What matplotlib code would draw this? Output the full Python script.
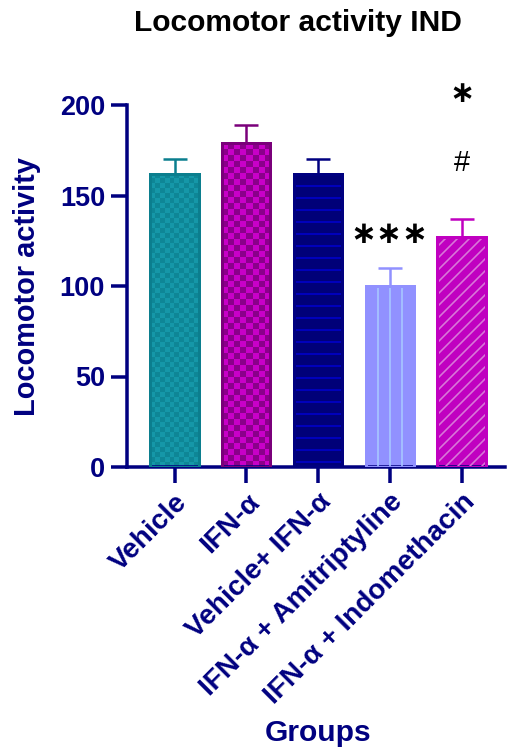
import numpy as np
import matplotlib.pyplot as plt
from matplotlib.colors import ListedColormap

# data
groups = ['Vehicle', 'IFN-α', 'Vehicle+ IFN-α', 'IFN-α + Amitriptyline', 'IFN-α + Indomethacin']
means = [162, 179, 162, 100, 127]
sem = [8, 10, 8, 10, 10]
marks = ['', '', '', '***', '*\n\n#']

face = ['#1597A8', '#8A008A', '#000078', '#9191FF', '#C000C0']
edge = ['#0B7E8E', '#7A007A', '#000080', '#9191FF', '#C000C0']
checker2 = ['#0E8696', '#C800C8', None, None, None]
hatches = [None, None, '-', '|', '//']
hatch_col = [None, None, '#0000CC', '#A8C8FF', '#D878D8']

navy = '#000080'
plt.rcParams['font.family'] = ['Liberation Sans', 'DejaVu Sans']
plt.rcParams['font.weight'] = 'bold'
plt.rcParams['hatch.linewidth'] = 1.6

fig = plt.figure(figsize=(507 / 72, 748 / 72), dpi=72)
ax = fig.add_axes([127 / 507, 281 / 748, 378 / 507, 362 / 748])

x = np.arange(len(groups))
w = 0.67
ax.set_xlim(-0.662, 4.606)
ax.set_ylim(0, 200)

# error bars (upper only)
for i in range(len(groups)):
    ax.errorbar(x[i], means[i], yerr=[[0], [sem[i]]], fmt='none', ecolor=edge[i],
                elinewidth=2.5, capsize=12, capthick=2.5, zorder=1)

bars = ax.bar(x, means, width=w, color=face, linewidth=0, zorder=2)

# px per data unit, for the checker texture
px_x = ax.transData.transform((1, 0))[0] - ax.transData.transform((0, 0))[0]
px_y = ax.transData.transform((0, 1))[1] - ax.transData.transform((0, 0))[1]

for i, b in enumerate(bars):
    x0, h = b.get_x(), b.get_height()
    if checker2[i]:
        cell = 5 if i == 0 else 6
        nc = max(1, int(round(w * px_x / cell)))
        nr = max(1, int(round(h * px_y / cell)))
        board = (np.add.outer(np.arange(nr), np.arange(nc)) % 2).astype(float)
        cmap = ListedColormap([face[i], checker2[i]])
        im = ax.imshow(board, cmap=cmap, extent=(x0, x0 + w, 0, h), origin='lower',
                       aspect='auto', interpolation='nearest', zorder=2.5)
        im.set_clip_path(b)
    if hatches[i]:
        ax.bar(x[i], means[i], width=w, color='none', edgecolor=hatch_col[i],
               hatch=hatches[i], linewidth=0, zorder=2.6)
    ax.bar(x[i], means[i], width=w, fill=False, edgecolor=edge[i], linewidth=3, zorder=3)

ax.set_xlim(-0.662, 4.606)
ax.set_ylim(0, 200)
ax.set_aspect('auto')

for i, m in enumerate(marks):
    if m == '***':
        ax.text(x[i], 128, '∗∗∗', ha='center', va='center', fontsize=31,
                color='black', clip_on=False)
    elif m:
        ax.text(x[i], 168, '#', ha='center', va='center', fontsize=29,
                fontweight='normal', color='black', clip_on=False)
        ax.text(x[i], 206, '∗', ha='center', va='center', fontsize=30,
                color='black', clip_on=False)

ax.set_yticks([0, 50, 100, 150, 200])
ax.set_xticks(x)
ax.set_xticklabels(groups, rotation=45, ha='right', rotation_mode='anchor')
ax.tick_params(axis='both', colors=navy, length=16, width=3.5, direction='out')
ax.tick_params(axis='y', pad=6, labelsize=27)
ax.tick_params(axis='x', pad=6, labelsize=28)
for s in ['top', 'right']:
    ax.spines[s].set_visible(False)
for s in ['left', 'bottom']:
    ax.spines[s].set_color(navy)
    ax.spines[s].set_linewidth(3.5)

fig.text(298 / 507, 1 - 23 / 748, 'Locomotor activity IND', ha='center', va='center',
         fontsize=30, fontweight='bold', color='black')
fig.text(27 / 507, 1 - 287 / 748, 'Locomotor activity', ha='center', va='center',
         rotation=90, fontsize=29, fontweight='bold', color=navy)
fig.text(318 / 507, 1 - 733 / 748, 'Groups', ha='center', va='center',
         fontsize=30, fontweight='bold', color=navy)

fig.savefig('out.png', dpi=72)
